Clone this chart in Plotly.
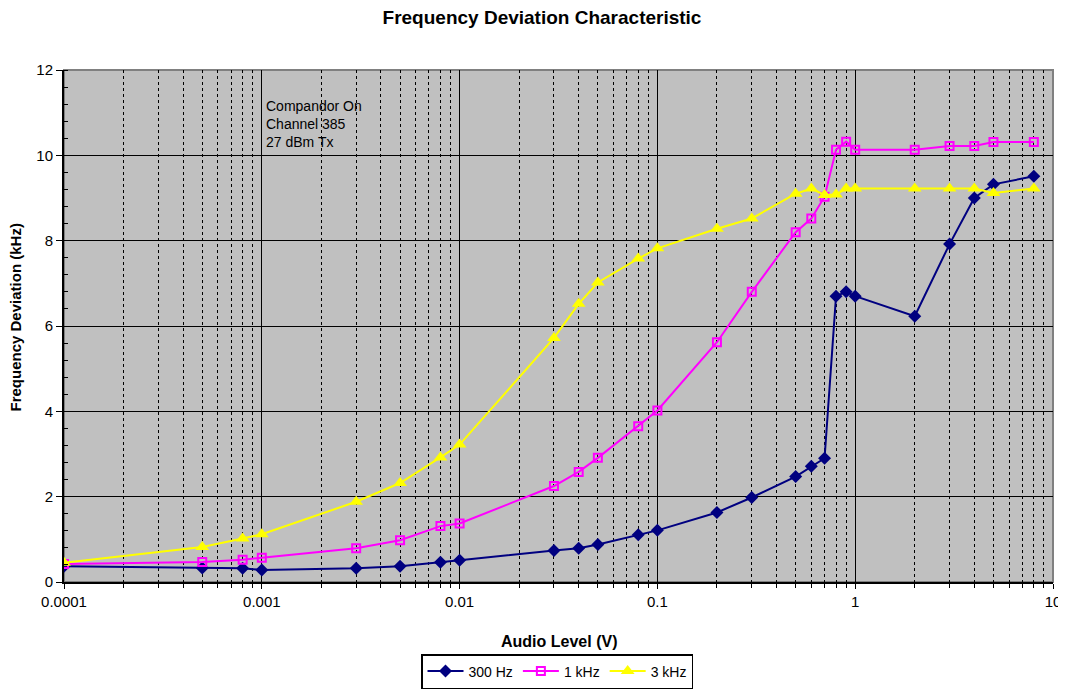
import plotly.graph_objects as go

x_levels = [0.0001, 0.0005, 0.0008, 0.001, 0.003, 0.005, 0.008, 0.01, 0.03, 0.04,
            0.05, 0.08, 0.1, 0.2, 0.3, 0.5, 0.6, 0.7, 0.8, 0.9, 1, 2, 3, 4, 5, 8]

dev_300hz = [0.37, 0.33, 0.32, 0.28, 0.32, 0.37, 0.46, 0.51, 0.74, 0.79, 0.88, 1.11, 1.21,
             1.63, 1.98, 2.47, 2.71, 2.9, 6.7, 6.8, 6.7, 6.23, 7.92, 9.0, 9.32, 9.51]
dev_1khz = [0.42, 0.47, 0.52, 0.57, 0.79, 0.98, 1.31, 1.37, 2.25, 2.58, 2.91, 3.65, 4.02,
            5.62, 6.8, 8.2, 8.52, 9.03, 10.13, 10.32, 10.13, 10.13, 10.22, 10.22, 10.31, 10.31]
dev_3khz = [0.45, 0.82, 1.02, 1.12, 1.88, 2.32, 2.92, 3.22, 5.72, 6.52, 7.02, 7.58, 7.82,
            8.28, 8.52, 9.1, 9.22, 9.07, 9.08, 9.22, 9.22, 9.22, 9.22, 9.22, 9.12, 9.22]

series_names = ["300 Hz", "1 kHz", "3 kHz"]
x_tickvals = [0.0001, 0.001, 0.01, 0.1, 1, 10]
x_ticktext = ["0.0001", "0.001", "0.01", "0.1", "1", "10"]
minor_vals = [m * 10 ** e for e in range(-4, 1) for m in range(2, 10)]

# The page body has an 8px margin, so the figure is sized to end at the window edges.
W, H = 1058, 682
L, R, T, B = 56, 13, 62, 108
PW, PH = W - L - R, H - T - B

fig = go.Figure()
fig.add_trace(go.Scatter(x=x_levels, y=dev_300hz, name=series_names[0], mode="lines+markers",
                         line=dict(color="#000080", width=2),
                         marker=dict(symbol="diamond", size=10, color="#000080")))
fig.add_trace(go.Scatter(x=x_levels, y=dev_1khz, name=series_names[1], mode="lines+markers",
                         line=dict(color="#FF00FF", width=2),
                         marker=dict(symbol="square-open", size=8, color="#FF00FF",
                                     line=dict(width=2, color="#FF00FF"))))
fig.add_trace(go.Scatter(x=x_levels, y=dev_3khz, name=series_names[2], mode="lines+markers",
                         line=dict(color="#FFFF00", width=2),
                         marker=dict(symbol="triangle-up", size=12, color="#FFFF00")))

fig.update_layout(
    width=W, height=H,
    margin=dict(l=L, r=R, t=T, b=B),
    paper_bgcolor="white", plot_bgcolor="#C0C0C0",
    font=dict(family="Arial, Liberation Sans, sans-serif", size=15, color="black"),
    title=dict(text="<b>Frequency Deviation Characteristic</b>", x=534 / W, xanchor="center",
               y=1 - 9.5 / H, yanchor="middle", font=dict(size=19)),
    showlegend=True,
    legend=dict(orientation="h", x=0.4985, xanchor="center", yref="container",
                y=1 - 646 / H, yanchor="top",
                bordercolor="black", borderwidth=1.5, bgcolor="white",
                font=dict(size=14), itemwidth=36, tracegroupgap=0),
    xaxis=dict(type="log", range=[-4, 1], tickmode="array", tickvals=x_tickvals,
               ticktext=x_ticktext, showgrid=True, gridcolor="black", gridwidth=1,
               showline=True, linecolor="black", linewidth=2, ticks="outside", ticklen=5,
               tickcolor="black", tickfont=dict(size=15), automargin=False,
               minor=dict(tickmode="array", tickvals=minor_vals, showgrid=True,
                          gridcolor="black", griddash="dot", gridwidth=1,
                          ticks="outside", ticklen=4, tickcolor="black"),
               zeroline=False),
    yaxis=dict(range=[0, 12], dtick=2, showgrid=True, gridcolor="black", gridwidth=1,
               showline=True, linecolor="black", linewidth=2, ticks="outside", ticklen=6,
               tickcolor="black", tickfont=dict(size=15), automargin=False,
               minor=dict(dtick=0.4, ticks="inside", ticklen=4, tickcolor="black", showgrid=False),
               zeroline=False),
    shapes=[dict(type="rect", xref="paper", yref="paper", x0=0, x1=1, y0=0, y1=1,
                 line=dict(color="#808080", width=2), layer="below")],
    annotations=[
        dict(text="Compandor On<br>Channel 385<br>27 dBm Tx", xref="paper", yref="paper",
             x=(256 - L) / PW, y=(574 - 88) / PH, xanchor="left", yanchor="top",
             showarrow=False, align="left", font=dict(size=14)),
        dict(text="<b>Audio Level (V)</b>", xref="paper", yref="paper",
             x=0.5, y=(574 - 633) / PH, xanchor="center", yanchor="middle",
             showarrow=False, font=dict(size=16)),
        dict(text="<b>Frequency Deviation (kHz)</b>", xref="paper", yref="paper",
             x=-(L - 7) / PW, y=(574 - 309.5) / PH, xanchor="center", yanchor="middle",
             textangle=-90, showarrow=False, font=dict(size=15)),
    ],
)

fig.write_html("out.html")
